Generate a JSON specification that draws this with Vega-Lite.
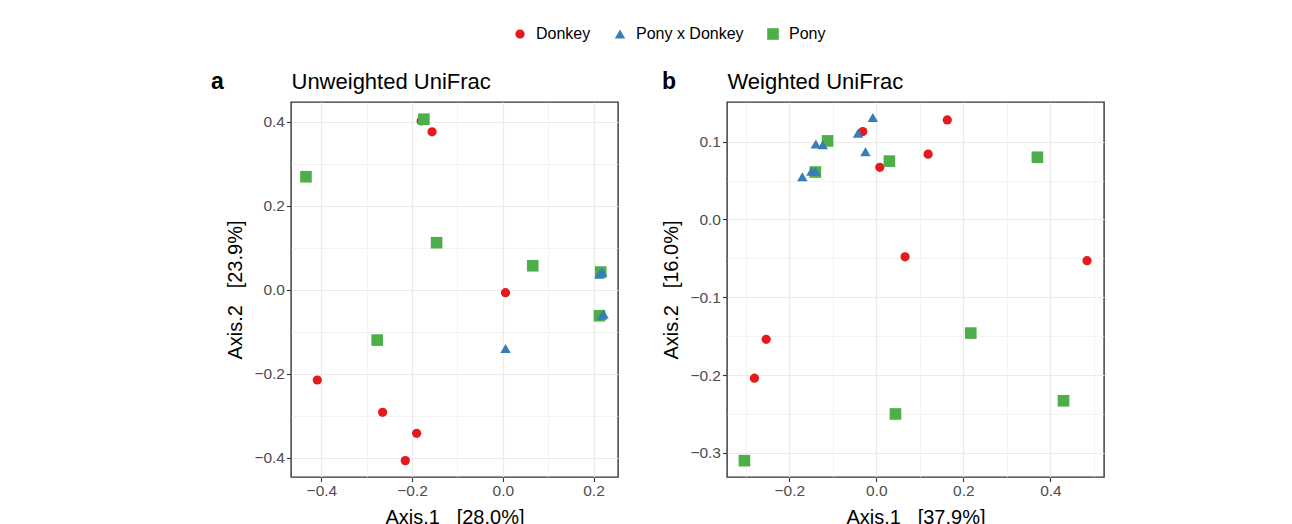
{
  "$schema": "https://vega.github.io/schema/vega-lite/v6.json",
  "background": "white",
  "padding": {"left": 210, "top": 26, "right": 5, "bottom": 0},
  "spacing": 42,
  "config": {
    "font": "Liberation Sans",
    "view": {"stroke": "#333333", "strokeWidth": 1.4},
    "axis": {
      "domain": false,
      "tickColor": "#333333",
      "tickSize": 4.5,
      "tickWidth": 1.1,
      "labelColor": "#4D4D4D",
      "labelFontSize": 15.5,
      "labelPadding": 2,
      "labelOverlap": false,
      "labelFlush": false,
      "titleFontSize": 20,
      "titleFontWeight": "normal",
      "titleColor": "#000000",
      "gridColor": "#EBEBEB"
    },
    "axisX": {"titlePadding": 8},
    "axisY": {"titlePadding": 8},
    "legend": {
      "orient": "none",
      "legendX": 221,
      "legendY": -76,
      "direction": "horizontal",
      "labelFontSize": 16,
      "labelColor": "#000000",
      "labelOffset": 8,
      "columnPadding": 21,
      "padding": 0,
      "symbolStrokeWidth": 0
    }
  },
  "datasets": {
    "pts": [
      {"panel": "a", "group": "Donkey", "x": -0.180, "y": 0.402},
      {"panel": "a", "group": "Donkey", "x": -0.156, "y": 0.376},
      {"panel": "a", "group": "Donkey", "x": 0.006, "y": -0.007},
      {"panel": "a", "group": "Donkey", "x": -0.409, "y": -0.215},
      {"panel": "a", "group": "Donkey", "x": -0.265, "y": -0.292},
      {"panel": "a", "group": "Donkey", "x": -0.190, "y": -0.342},
      {"panel": "a", "group": "Donkey", "x": -0.215, "y": -0.407},
      {"panel": "a", "group": "Pony", "x": -0.174, "y": 0.406},
      {"panel": "a", "group": "Pony", "x": -0.434, "y": 0.269},
      {"panel": "a", "group": "Pony", "x": -0.146, "y": 0.112},
      {"panel": "a", "group": "Pony", "x": 0.066, "y": 0.057},
      {"panel": "a", "group": "Pony", "x": 0.216, "y": 0.042},
      {"panel": "a", "group": "Pony", "x": 0.213, "y": -0.062},
      {"panel": "a", "group": "Pony", "x": -0.277, "y": -0.120},
      {"panel": "a", "group": "Pony x Donkey", "x": 0.006, "y": -0.140},
      {"panel": "a", "group": "Pony x Donkey", "x": 0.213, "y": 0.037},
      {"panel": "a", "group": "Pony x Donkey", "x": 0.219, "y": 0.042},
      {"panel": "a", "group": "Pony x Donkey", "x": 0.219, "y": -0.061},
      {"panel": "a", "group": "Pony x Donkey", "x": 0.222, "y": -0.058},
      {"panel": "b", "group": "Donkey", "x": 0.163, "y": 0.128},
      {"panel": "b", "group": "Donkey", "x": -0.031, "y": 0.113},
      {"panel": "b", "group": "Donkey", "x": 0.119, "y": 0.084},
      {"panel": "b", "group": "Donkey", "x": 0.008, "y": 0.067},
      {"panel": "b", "group": "Donkey", "x": 0.066, "y": -0.048},
      {"panel": "b", "group": "Donkey", "x": 0.484, "y": -0.053},
      {"panel": "b", "group": "Donkey", "x": -0.253, "y": -0.154},
      {"panel": "b", "group": "Donkey", "x": -0.280, "y": -0.204},
      {"panel": "b", "group": "Pony", "x": -0.112, "y": 0.101},
      {"panel": "b", "group": "Pony", "x": 0.370, "y": 0.080},
      {"panel": "b", "group": "Pony", "x": 0.030, "y": 0.075},
      {"panel": "b", "group": "Pony", "x": -0.140, "y": 0.061},
      {"panel": "b", "group": "Pony", "x": 0.217, "y": -0.146},
      {"panel": "b", "group": "Pony", "x": 0.430, "y": -0.233},
      {"panel": "b", "group": "Pony", "x": 0.044, "y": -0.250},
      {"panel": "b", "group": "Pony", "x": -0.303, "y": -0.310},
      {"panel": "b", "group": "Pony x Donkey", "x": -0.008, "y": 0.131},
      {"panel": "b", "group": "Pony x Donkey", "x": -0.042, "y": 0.111},
      {"panel": "b", "group": "Pony x Donkey", "x": -0.139, "y": 0.097},
      {"panel": "b", "group": "Pony x Donkey", "x": -0.123, "y": 0.096},
      {"panel": "b", "group": "Pony x Donkey", "x": -0.025, "y": 0.087},
      {"panel": "b", "group": "Pony x Donkey", "x": -0.149, "y": 0.062},
      {"panel": "b", "group": "Pony x Donkey", "x": -0.140, "y": 0.062},
      {"panel": "b", "group": "Pony x Donkey", "x": -0.170, "y": 0.055}
    ]
  },
  "hconcat": [
    {
      "width": 327,
      "height": 375,
      "title": {"text": "a", "anchor": "start", "frame": "group", "dx": -80, "dy": 42, "offset": 0, "fontSize": 23, "fontWeight": "bold", "color": "#000000", "baseline": "alphabetic"},
      "data": {"name": "pts"},
      "transform": [{"filter": "datum.panel === 'a'"}],
      "resolve": {"axis": {"x": "independent", "y": "independent"}},
      "layer": [
        {
          "mark": {"type": "point", "filled": true, "opacity": 1, "strokeWidth": 0},
          "encoding": {
            "x": {
              "field": "x", "type": "quantitative",
              "scale": {"domain": [-0.467, 0.254], "nice": false, "zero": false},
              "axis": {
                "orient": "bottom",
                "title": "Axis.1\u00a0\u00a0\u00a0[28.0%]",
                "values": [-0.4, -0.3, -0.2, -0.1, 0, 0.1, 0.2],
                "format": ".1f",
                "gridWidth": {"condition": {"test": "abs(round(datum.value*10)) % 2 == 1", "value": 0.6}, "value": 1.2},
                "tickOpacity": {"condition": {"test": "abs(round(datum.value*10)) % 2 == 1", "value": 0}, "value": 1},
                "labelOpacity": {"condition": {"test": "abs(round(datum.value*10)) % 2 == 1", "value": 0}, "value": 1}
              }
            },
            "y": {
              "field": "y", "type": "quantitative",
              "scale": {"domain": [-0.446, 0.447], "nice": false, "zero": false},
              "axis": {
                "orient": "left",
                "title": "Axis.2\u00a0\u00a0\u00a0[23.9%]",
                "values": [-0.4, -0.3, -0.2, -0.1, 0, 0.1, 0.2, 0.3, 0.4],
                "format": ".1f",
                "gridWidth": {"condition": {"test": "abs(round(datum.value*10)) % 2 == 1", "value": 0.6}, "value": 1.2},
                "tickOpacity": {"condition": {"test": "abs(round(datum.value*10)) % 2 == 1", "value": 0}, "value": 1},
                "labelOpacity": {"condition": {"test": "abs(round(datum.value*10)) % 2 == 1", "value": 0}, "value": 1}
              }
            },
            "color": {"field": "group", "type": "nominal", "title": null,
              "scale": {"domain": ["Donkey", "Pony x Donkey", "Pony"], "range": ["#E41A1C", "#377EB8", "#4DAF4A"]}},
            "shape": {"field": "group", "type": "nominal", "title": null,
              "scale": {"domain": ["Donkey", "Pony x Donkey", "Pony"], "range": ["circle", "triangle-up", "square"]}},
            "size": {"field": "group", "type": "nominal", "title": null,
              "scale": {"domain": ["Donkey", "Pony x Donkey", "Pony"], "range": [85, 135, 100]}}
          }
        },
        {
          "mark": {"type": "point", "opacity": 0},
          "encoding": {
            "x": {
              "field": "x", "type": "quantitative",
              "axis": {"orient": "top", "title": "Unweighted UniFrac", "labels": false, "ticks": false, "domain": false, "grid": false,
                "titleAnchor": "start", "titleAlign": "left", "titleBaseline": "alphabetic", "titlePadding": 14, "titleFontSize": 22}
            },
            "y": {"field": "y", "type": "quantitative", "axis": null}
          }
        }
      ]
    },
    {
      "width": 377,
      "height": 375,
      "title": {"text": "b", "anchor": "start", "frame": "group", "dx": -65, "dy": 42, "offset": 0, "fontSize": 23, "fontWeight": "bold", "color": "#000000", "baseline": "alphabetic"},
      "data": {"name": "pts"},
      "transform": [{"filter": "datum.panel === 'b'"}],
      "resolve": {"axis": {"x": "independent", "y": "independent"}},
      "layer": [
        {
          "mark": {"type": "point", "filled": true, "opacity": 1, "strokeWidth": 0},
          "encoding": {
            "x": {
              "field": "x", "type": "quantitative",
              "scale": {"domain": [-0.343, 0.523], "nice": false, "zero": false},
              "axis": {
                "orient": "bottom",
                "title": "Axis.1\u00a0\u00a0\u00a0[37.9%]",
                "values": [-0.3, -0.2, -0.1, 0, 0.1, 0.2, 0.3, 0.4, 0.5],
                "format": ".1f",
                "gridWidth": {"condition": {"test": "abs(round(datum.value*10)) % 2 == 1", "value": 0.6}, "value": 1.2},
                "tickOpacity": {"condition": {"test": "abs(round(datum.value*10)) % 2 == 1", "value": 0}, "value": 1},
                "labelOpacity": {"condition": {"test": "abs(round(datum.value*10)) % 2 == 1", "value": 0}, "value": 1}
              }
            },
            "y": {
              "field": "y", "type": "quantitative",
              "scale": {"domain": [-0.331, 0.151], "nice": false, "zero": false},
              "axis": {
                "orient": "left",
                "title": "Axis.2\u00a0\u00a0\u00a0[16.0%]",
                "values": [-0.3, -0.25, -0.2, -0.15, -0.1, -0.05, 0, 0.05, 0.1],
                "format": ".1f",
                "gridWidth": {"condition": {"test": "abs(round(datum.value*20)) % 2 == 1", "value": 0.6}, "value": 1.2},
                "tickOpacity": {"condition": {"test": "abs(round(datum.value*20)) % 2 == 1", "value": 0}, "value": 1},
                "labelOpacity": {"condition": {"test": "abs(round(datum.value*20)) % 2 == 1", "value": 0}, "value": 1}
              }
            },
            "color": {"field": "group", "type": "nominal", "title": null,
              "scale": {"domain": ["Donkey", "Pony x Donkey", "Pony"], "range": ["#E41A1C", "#377EB8", "#4DAF4A"]}},
            "shape": {"field": "group", "type": "nominal", "title": null,
              "scale": {"domain": ["Donkey", "Pony x Donkey", "Pony"], "range": ["circle", "triangle-up", "square"]}},
            "size": {"field": "group", "type": "nominal", "title": null,
              "scale": {"domain": ["Donkey", "Pony x Donkey", "Pony"], "range": [85, 135, 100]}}
          }
        },
        {
          "mark": {"type": "point", "opacity": 0},
          "encoding": {
            "x": {
              "field": "x", "type": "quantitative",
              "axis": {"orient": "top", "title": "Weighted UniFrac", "labels": false, "ticks": false, "domain": false, "grid": false,
                "titleAnchor": "start", "titleAlign": "left", "titleBaseline": "alphabetic", "titlePadding": 14, "titleFontSize": 22}
            },
            "y": {"field": "y", "type": "quantitative", "axis": null}
          }
        }
      ]
    }
  ]
}
